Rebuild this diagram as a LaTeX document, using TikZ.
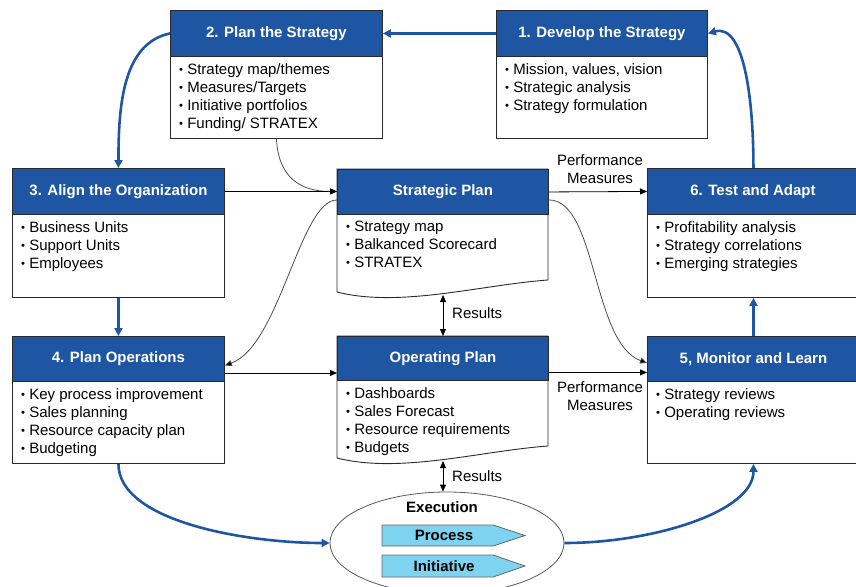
\documentclass[tikz,border=0pt]{standalone}
\usepackage{fontspec}
\setmainfont{Liberation Sans}
\usetikzlibrary{arrows.meta,shapes.geometric}
\definecolor{hblue}{HTML}{1F56A3}
\definecolor{lblue}{HTML}{7DD3F0}
\definecolor{edge}{HTML}{2A2A2A}
\newcommand\bul{\raisebox{0.12ex}{\scalebox{0.75}{\textbullet}}\ }
\begin{document}
\begin{tikzpicture}[x=1pt,y=-1pt,
  boxbody/.style={draw=edge, line width=0.9pt, fill=white, anchor=north west, inner sep=0pt},
  hdr/.style={draw=edge, line width=0.9pt, fill=hblue, text=white, anchor=north west, inner sep=0pt,
    font=\bfseries\fontsize{15}{18}\selectfont},
  bodytxt/.style={anchor=north west, inner sep=0pt, align=left, font=\fontsize{15}{18}\selectfont},
  lbl/.style={inner sep=0pt, align=center, font=\fontsize{15}{18}\selectfont},
  barrow/.style={draw=hblue, line width=2.6pt, -{Triangle[length=8pt,width=8pt]}},
  karrow/.style={draw=black, line width=0.8pt, -{Triangle[length=7pt,width=6pt]}},
  kcurve/.style={draw=black!70, line width=0.8pt, -{Triangle[length=7pt,width=6pt,fill=black]}},
  kdouble/.style={draw=black, line width=0.8pt, {Triangle[length=7pt,width=6pt]}-{Triangle[length=7pt,width=6pt]}},
  chevron/.style={draw=black!60, line width=0.8pt, fill=lblue},
  chevtxt/.style={inner sep=0pt, font=\bfseries\fontsize{15}{18}\selectfont}
]
\useasboundingbox (0,0) rectangle (856,586);

% ---------- Box 1
\node[boxbody, minimum width=211pt, minimum height=128pt] (b1) at (496,10) {};
\node[hdr, minimum width=211pt, minimum height=46pt] (b1h) at (496,10) {1. Develop the Strategy};
\node[bodytxt] (b1t) at (505,63) {\bul Mission, values, vision\\\bul Strategic analysis\\\bul Strategy formulation};

% ---------- Box 2
\node[boxbody, minimum width=212pt, minimum height=128pt] (b2) at (170,10) {};
\node[hdr, minimum width=212pt, minimum height=46pt] (b2h) at (170,10) {2. Plan the Strategy};
\node[bodytxt] (b2t) at (179,63) {\bul Strategy map/themes\\\bul Measures/Targets\\\bul Initiative portfolios\\\bul Funding/ STRATEX};

% ---------- Box 3
\node[boxbody, minimum width=212pt, minimum height=129pt] (b3) at (12,168) {};
\node[hdr, minimum width=212pt, minimum height=46pt] (b3h) at (12,168) {3. Align the Organization};
\node[bodytxt] (b3t) at (21,221) {\bul Business Units\\\bul Support Units\\\bul Employees};

% ---------- Box 4
\node[boxbody, minimum width=212pt, minimum height=127pt] (b4) at (12,336) {};
\node[hdr, minimum width=212pt, minimum height=45pt] (b4h) at (12,336) {4. Plan Operations};
\node[bodytxt] (b4t) at (21,388) {\bul Key process improvement\\\bul Sales planning\\\bul Resource capacity plan\\\bul Budgeting};

% ---------- Box 6
\node[boxbody, minimum width=212pt, minimum height=129pt] (b6) at (647,168) {};
\node[hdr, minimum width=212pt, minimum height=46pt] (b6h) at (647,168) {\hspace*{-1pt}6. Test and Adapt};
\node[bodytxt] (b6t) at (656,221) {\bul Profitability analysis\\\bul Strategy correlations\\\bul Emerging strategies};

% ---------- Box 5
\node[boxbody, minimum width=212pt, minimum height=127pt] (b5) at (647,336) {};
\node[hdr, minimum width=212pt, minimum height=45pt] (b5h) at (647,336) {5, Monitor and Learn};
\node[bodytxt] (b5t) at (656,388) {\bul Strategy reviews\\\bul Operating reviews};

% ---------- Strategic Plan (document shape)
\path[draw=edge, fill=white, line width=0.9pt] (337,169) -- (548,169) -- (548,280)
  .. controls (480,285) and (400,308) .. (337,292) -- cycle;
\node[hdr, minimum width=211pt, minimum height=45pt] (sph) at (337,169) {Strategic Plan};
\node[bodytxt] (spt) at (346,221) {\bul Strategy map\\\bul Balkanced Scorecard\\\bul STRATEX};
\coordinate (spb) at (443,295);

% ---------- Operating Plan (document shape)
\path[draw=edge, fill=white, line width=0.9pt] (337,336) -- (548,336) -- (548,446)
  .. controls (480,451) and (400,474) .. (337,458) -- cycle;
\node[hdr, minimum width=211pt, minimum height=44pt] (oph) at (337,336) {Operating Plan};
\node[bodytxt] (opt) at (346,387) {\bul Dashboards\\\bul Sales Forecast\\\bul Resource requirements\\\bul Budgets};
\coordinate (opb) at (443,461);
\coordinate (opn) at (443,336);

% ---------- Execution ellipse
\node[ellipse, draw=black!65, line width=0.8pt, fill=white, minimum width=234pt, minimum height=102pt, inner sep=0pt] (exe) at (447,543) {};
\node[chevtxt] (exet) at (442,507) {Execution};
\path[chevron] (382,525) -- (493,525) -- (525,535.5) -- (493,546) -- (382,546) -- cycle;
\node[chevtxt] (proc) at (444,535.5) {Process};
\path[chevron] (382,555) -- (493,555) -- (525,566) -- (493,577) -- (382,577) -- cycle;
\node[chevtxt] (init) at (444,566) {Initiative};

% ---------- Blue cycle connectors
\draw[barrow] (b1h.west) -- (b2h.east);
\draw[barrow] (b2h.west) .. controls +(-48,10) and +(0,-60) .. (b3h.north);
\draw[barrow] (b3.south) -- (b4h.north);
\draw[barrow] (b4.south) .. controls +(0,58) and +(-82,0) .. (exe.west);
\draw[barrow] (exe.east) .. controls +(88,0) and +(0,48) .. (b5.south);
\draw[barrow] (b5h.north) -- (b6.south);
\draw[barrow] (b6h.north) .. controls +(0,-70) and +(36,-10) .. (b1h.east);

% ---------- Black connectors
\draw[kcurve] (b2.south) .. controls +(2,40) and +(-35,0) .. ([yshift=0.5pt]sph.west);
\draw[karrow] (b3h.east) -- ([yshift=0.5pt]sph.west);
\draw[kcurve] ([yshift=-8pt]sph.west) .. controls +(-37,0) and +(55,-20) .. ([yshift=-6.5pt]b4h.east);
\draw[karrow] ([yshift=-14pt]b4h.east) -- ([yshift=-14pt]b4h.east -| oph.west);
\draw[karrow] (sph.east) -- (b6h.west);
\draw[kcurve] ([yshift=-8pt]sph.east) .. controls +(48,0) and +(-55,-20) .. ([yshift=-4pt]b5h.west);
\draw[karrow] ([yshift=-14pt]oph.east) -- ([yshift=-14pt]oph.east -| b5h.west);
\draw[kdouble] (spb) -- (opn);
\draw[kdouble] (opb) -- (opb |- exe.north);

% ---------- Labels
\node[lbl] (pm1) at (600,169) {Performance\\Measures};
\node[lbl] (pm2) at (600,396) {Performance\\Measures};
\node[lbl, anchor=west] (r1) at (452,313) {Results};
\node[lbl, anchor=west] (r2) at (452,476) {Results};
\end{tikzpicture}
\end{document}
